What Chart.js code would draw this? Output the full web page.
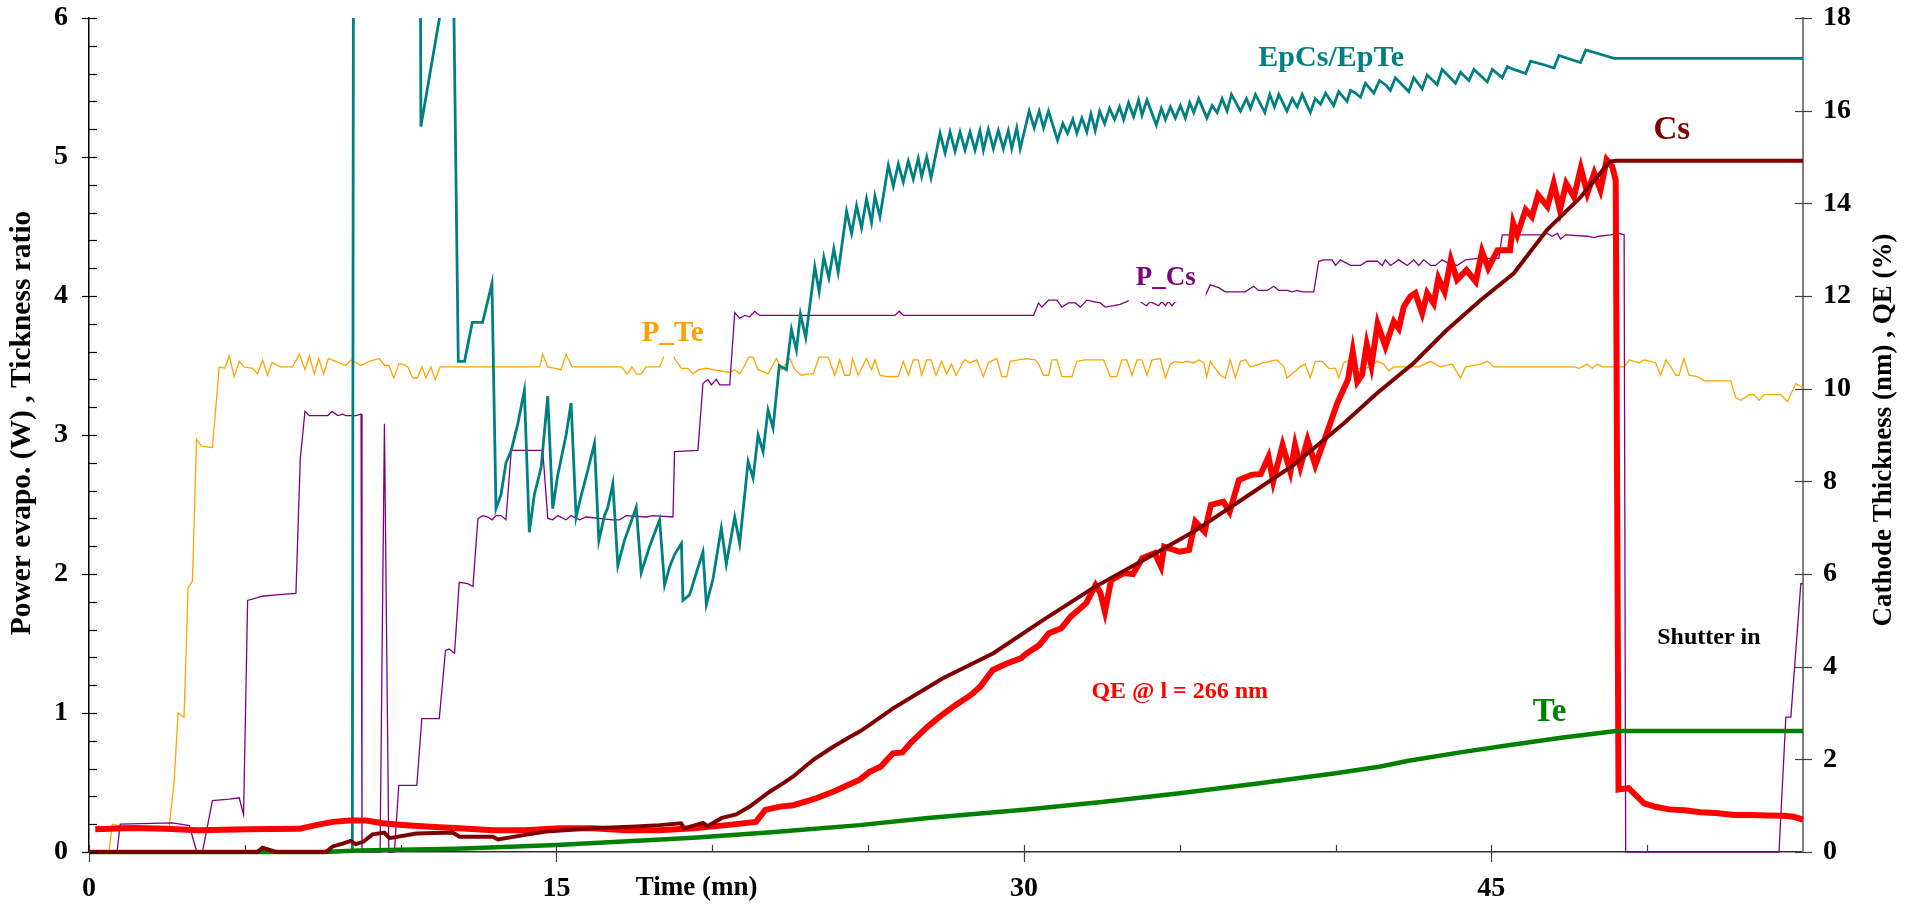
<!DOCTYPE html>
<html><head><meta charset="utf-8">
<script src="https://cdn.jsdelivr.net/npm/chart.js@4.4.1/dist/chart.umd.min.js"></script>
<style>html,body{margin:0;padding:0;background:#fff;}#wrap{width:1908px;height:906px;}</style>
</head><body><div id="wrap"><canvas id="c" width="1908" height="906"></canvas></div>
<script>
// ---- tick labels ----
const xLabeledTicks = [0, 15, 30, 45];
const xTitle = 'Time (mn)';
const yLeftTitle = 'Power evapo. (W) , Tickness ratio';
const yRightTitle = 'Cathode Thickness (nm) , QE (%)';

// ---- series: [time (min), value] ----
const pTe = [[0.2,0],[0.64,0],[0.75,0.2],[0.96,0.19],[2.57,0.18],[2.73,0.5],[2.86,1.0],[3.05,0.97],[3.18,1.9],[3.32,1.95],[3.45,2.97],[3.6,2.92],[3.96,2.91],[4.18,3.49],[4.36,3.48],[4.5,3.57],[4.66,3.42],[4.82,3.53],[4.98,3.49],[5.25,3.48],[5.41,3.44],[5.57,3.54],[5.73,3.43],[5.87,3.52],[6.16,3.49],[6.53,3.49],[6.75,3.58],[6.93,3.47],[7.07,3.57],[7.23,3.44],[7.37,3.55],[7.53,3.44],[7.68,3.55],[7.92,3.53],[8.24,3.5],[8.41,3.54],[8.73,3.5],[8.99,3.53],[9.32,3.55],[9.48,3.5],[9.62,3.5],[9.78,3.41],[9.94,3.51],[10.07,3.51],[10.23,3.49],[10.39,3.41],[10.53,3.41],[10.69,3.49],[10.81,3.41],[10.97,3.49],[11.11,3.4],[11.27,3.49],[14.46,3.49],[14.56,3.58],[14.72,3.49],[15.15,3.47],[15.31,3.58],[15.5,3.49],[17.08,3.49],[17.27,3.44],[17.42,3.49],[17.56,3.44],[17.72,3.44],[17.88,3.49],[18.31,3.49],[18.42,3.55],[18.6,3.75],[18.79,3.55],[19.01,3.48],[19.22,3.48],[19.38,3.44],[19.57,3.47],[19.81,3.48],[20.02,3.47],[20.56,3.45],[20.72,3.47],[20.88,3.44],[21.04,3.5],[21.17,3.56],[21.31,3.56],[21.47,3.47],[21.79,3.44],[22.06,3.55],[22.22,3.47],[22.49,3.55],[22.65,3.47],[22.86,3.43],[23.08,3.44],[23.24,3.44],[23.43,3.56],[23.72,3.56],[23.93,3.43],[24.09,3.54],[24.25,3.43],[24.41,3.43],[24.5,3.55],[24.68,3.43],[24.95,3.55],[25.11,3.47],[25.22,3.54],[25.38,3.43],[25.6,3.42],[25.97,3.42],[26.13,3.53],[26.29,3.43],[26.45,3.54],[26.61,3.54],[26.72,3.43],[26.88,3.54],[27.02,3.54],[27.18,3.43],[27.36,3.53],[27.52,3.44],[27.68,3.51],[27.82,3.43],[28.09,3.54],[28.27,3.52],[28.49,3.54],[28.7,3.42],[28.86,3.52],[29.13,3.55],[29.29,3.42],[29.45,3.42],[29.56,3.53],[29.82,3.54],[30.09,3.55],[30.36,3.54],[30.47,3.51],[30.63,3.43],[30.79,3.43],[30.9,3.54],[31.06,3.54],[31.22,3.42],[31.54,3.42],[31.7,3.53],[31.97,3.54],[32.56,3.54],[32.77,3.42],[32.98,3.42],[33.14,3.54],[33.3,3.54],[33.47,3.43],[33.63,3.54],[33.79,3.54],[33.95,3.43],[34.11,3.54],[34.38,3.55],[34.54,3.41],[34.7,3.51],[34.86,3.53],[35.07,3.52],[35.23,3.53],[35.45,3.52],[35.61,3.54],[35.77,3.52],[35.87,3.42],[35.98,3.53],[36.3,3.43],[36.46,3.41],[36.62,3.54],[36.79,3.41],[36.95,3.53],[37.11,3.54],[37.27,3.49],[37.7,3.52],[38.12,3.54],[38.34,3.49],[38.44,3.41],[38.87,3.49],[39.03,3.51],[39.19,3.41],[39.35,3.53],[39.57,3.53],[39.78,3.48],[40.0,3.48],[40.1,3.41],[40.26,3.52],[40.48,3.54],[40.69,3.48],[40.91,3.48],[41.12,3.49],[41.34,3.53],[41.55,3.51],[41.71,3.46],[41.87,3.49],[42.3,3.49],[42.67,3.49],[43.05,3.53],[43.37,3.49],[43.74,3.51],[44.01,3.41],[44.17,3.49],[44.65,3.51],[44.87,3.53],[45.08,3.49],[47.65,3.49],[47.81,3.48],[48.08,3.51],[48.24,3.48],[48.4,3.51],[48.56,3.49],[49.26,3.49],[49.42,3.54],[49.74,3.52],[49.9,3.54],[50.27,3.52],[50.43,3.43],[50.6,3.54],[50.76,3.49],[50.92,3.43],[51.02,3.43],[51.18,3.55],[51.34,3.43],[51.61,3.42],[51.83,3.39],[52.68,3.39],[52.84,3.27],[53.0,3.25],[53.27,3.29],[53.43,3.29],[53.59,3.25],[53.75,3.29],[54.29,3.29],[54.5,3.24],[54.77,3.37],[55.0,3.34]];

const pCs = [[0.9,0],[1.0,0.2],[2.68,0.21],[3.22,0.19],[3.46,0],[3.64,0],[3.96,0.37],[4.5,0.38],[4.82,0.39],[4.96,0.27],[5.09,1.81],[5.57,1.84],[6.0,1.85],[6.64,1.86],[6.78,2.83],[6.93,3.17],[7.07,3.14],[7.66,3.14],[7.8,3.17],[7.98,3.14],[8.14,3.15],[8.24,3.14],[8.57,3.14],[8.73,3.15],[8.76,0],[9.34,0],[9.48,3.08],[9.62,0],[9.8,0],[9.94,0.48],[10.52,0.48],[10.68,0.96],[11.24,0.96],[11.44,1.45],[11.56,1.46],[11.73,1.43],[11.88,1.94],[12.15,1.93],[12.32,1.91],[12.48,2.4],[12.64,2.42],[12.8,2.41],[12.94,2.39],[13.06,2.42],[13.22,2.42],[13.38,2.39],[13.55,2.89],[14.56,2.89],[14.72,2.4],[14.88,2.39],[15.04,2.42],[15.31,2.39],[15.47,2.42],[15.74,2.39],[15.95,2.41],[16.81,2.39],[17.02,2.39],[17.24,2.42],[17.88,2.41],[18.1,2.42],[18.74,2.41],[18.79,2.88],[19.54,2.89],[19.7,3.37],[19.86,3.4],[19.97,3.36],[20.13,3.4],[20.24,3.36],[20.56,3.36],[20.72,3.88],[20.88,3.84],[21.04,3.86],[21.2,3.85],[21.36,3.89],[21.52,3.86],[25.86,3.86],[26.0,3.89],[26.13,3.86],[30.31,3.86],[30.47,3.95],[30.57,3.92],[30.79,3.97],[31.06,3.97],[31.22,3.92],[31.43,3.95],[31.65,3.95],[31.81,3.92],[32.02,3.97],[32.23,3.96],[32.45,3.95],[32.61,3.92],[32.88,3.93],[33.09,3.94],[33.41,3.97],[33.73,3.96],[33.93,3.93],[34.05,3.96],[34.32,3.93],[34.43,3.96],[34.54,3.93],[34.64,3.96],[34.75,3.93],[34.86,3.96],[35.34,3.97],[35.77,3.98],[35.98,4.08],[36.25,4.06],[36.46,4.03],[37.1,4.03],[37.37,4.07],[37.53,4.04],[37.8,4.04],[38.02,4.07],[38.18,4.04],[38.45,4.04],[38.61,4.03],[38.77,4.04],[38.93,4.03],[39.3,4.03],[39.46,4.25],[39.62,4.26],[39.89,4.26],[40.0,4.22],[40.16,4.26],[40.48,4.22],[40.8,4.22],[41.01,4.25],[41.34,4.25],[41.5,4.22],[41.6,4.26],[41.76,4.22],[42.03,4.26],[42.3,4.22],[42.51,4.26],[42.67,4.22],[42.83,4.26],[43.05,4.22],[43.21,4.22],[43.42,4.26],[43.58,4.24],[43.9,4.22],[44.17,4.26],[44.55,4.27],[45.24,4.27],[45.35,4.44],[46.63,4.44],[46.79,4.45],[46.95,4.43],[47.12,4.45],[47.22,4.41],[47.38,4.44],[48.08,4.43],[48.29,4.42],[48.45,4.43],[48.83,4.44],[49.1,4.45],[49.26,4.44],[49.31,0],[54.23,0],[54.45,0.97],[54.61,0.97],[54.93,1.93],[55,1.93]];

const ratio = [[8.45,0],[8.5,9],[10.6,9],[10.65,5.22],[11.4,6.2],[11.7,6.2],[11.85,3.53],[12.05,3.53],[12.3,3.81],[12.63,3.81],[12.93,4.09],[13.06,2.47],[13.22,2.57],[13.38,2.8],[13.55,2.89],[13.76,3.08],[13.97,3.32],[14.13,2.3],[14.29,2.57],[14.51,2.77],[14.72,3.28],[14.88,2.47],[15.04,2.71],[15.31,3.0],[15.47,3.23],[15.63,2.41],[15.79,2.56],[16.01,2.75],[16.22,2.94],[16.36,2.24],[16.54,2.42],[16.65,2.48],[16.81,2.65],[16.97,2.06],[17.18,2.24],[17.56,2.48],[17.72,2.01],[17.99,2.2],[18.31,2.39],[18.47,1.92],[18.63,2.05],[18.79,2.14],[19.01,2.22],[19.06,1.81],[19.27,1.85],[19.38,1.93],[19.7,2.16],[19.81,1.78],[20.02,1.96],[20.29,2.33],[20.45,2.07],[20.72,2.41],[20.88,2.22],[21.15,2.81],[21.31,2.69],[21.47,3.0],[21.63,2.88],[21.79,3.18],[21.95,3.05],[22.15,3.5],[22.38,3.47],[22.54,3.76],[22.7,3.61],[22.83,3.87],[23.0,3.7],[23.29,4.21],[23.43,4.03],[23.58,4.28],[23.74,4.13],[23.9,4.34],[24.04,4.17],[24.31,4.61],[24.47,4.45],[24.63,4.65],[24.79,4.49],[24.95,4.7],[25.11,4.53],[25.22,4.72],[25.38,4.57],[25.65,4.94],[25.81,4.79],[25.97,4.95],[26.13,4.82],[26.29,4.97],[26.45,4.84],[26.61,4.99],[26.72,4.86],[26.88,5.0],[27.02,4.85],[27.31,5.17],[27.47,5.03],[27.63,5.18],[27.79,5.04],[27.95,5.18],[28.11,5.05],[28.27,5.18],[28.43,5.05],[28.59,5.19],[28.7,5.05],[28.86,5.2],[29.02,5.06],[29.18,5.19],[29.34,5.06],[29.5,5.19],[29.61,5.06],[29.77,5.21],[29.88,5.06],[30.17,5.33],[30.33,5.21],[30.49,5.33],[30.63,5.21],[30.79,5.33],[31.08,5.12],[31.25,5.24],[31.4,5.17],[31.57,5.27],[31.7,5.17],[31.86,5.28],[32.02,5.18],[32.15,5.31],[32.29,5.19],[32.43,5.33],[32.59,5.24],[32.75,5.35],[32.91,5.27],[33.07,5.36],[33.2,5.27],[33.36,5.39],[33.52,5.29],[33.68,5.41],[33.79,5.3],[33.95,5.41],[34.25,5.23],[34.41,5.35],[34.54,5.27],[34.7,5.36],[34.86,5.28],[35.02,5.37],[35.18,5.28],[35.32,5.39],[35.45,5.32],[35.61,5.42],[35.87,5.28],[36.04,5.37],[36.2,5.32],[36.36,5.42],[36.52,5.33],[36.66,5.45],[36.95,5.33],[37.14,5.42],[37.27,5.35],[37.43,5.45],[37.73,5.32],[37.89,5.45],[38.04,5.36],[38.18,5.45],[38.44,5.33],[38.61,5.42],[38.77,5.36],[38.93,5.45],[39.19,5.32],[39.35,5.42],[39.52,5.38],[39.68,5.46],[39.94,5.37],[40.1,5.47],[40.37,5.4],[40.48,5.48],[40.64,5.46],[40.8,5.43],[40.96,5.53],[41.23,5.46],[41.41,5.55],[41.6,5.52],[41.76,5.48],[41.92,5.57],[42.35,5.47],[42.51,5.57],[42.78,5.49],[42.94,5.59],[43.26,5.52],[43.42,5.63],[43.85,5.53],[44.01,5.61],[44.28,5.55],[44.44,5.63],[44.87,5.54],[45.03,5.63],[45.35,5.57],[45.51,5.65],[45.72,5.63],[46.1,5.6],[46.26,5.69],[46.74,5.66],[47.01,5.64],[47.17,5.73],[47.86,5.68],[48.03,5.77],[48.94,5.71],[55,5.71]];

const csThick = [[0,0],[5.4,0],[5.57,0.09],[6.0,0],[7.6,0],[7.82,0.12],[8.14,0.18],[8.4,0.24],[8.56,0.17],[8.8,0.22],[9.1,0.38],[9.48,0.42],[9.64,0.3],[10.5,0.4],[11.67,0.42],[11.89,0.33],[12.96,0.33],[13.12,0.27],[14.0,0.37],[14.67,0.44],[16.17,0.51],[17.56,0.55],[18.3,0.58],[19.0,0.62],[19.1,0.51],[19.7,0.63],[19.86,0.56],[20.29,0.73],[20.77,0.81],[21.2,0.98],[21.84,1.3],[22.27,1.48],[22.6,1.63],[23.24,1.99],[23.88,2.27],[24.41,2.48],[24.73,2.6],[25.06,2.75],[25.8,3.1],[27.4,3.75],[29.02,4.29],[30.6,5.0],[32.2,5.69],[33.84,6.3],[35.44,6.91],[37.05,7.63],[38.65,8.35],[40.26,9.25],[41.33,9.9],[42.5,10.55],[43.58,11.27],[44.65,11.91],[45.72,12.49],[46.79,13.43],[47.87,14.14],[48.8,14.9],[49.0,14.92],[55,14.92]];

const teThick = [[0,0],[7.5,0],[8.67,0.03],[11.78,0.07],[15,0.15],[19.4,0.31],[22,0.43],[24.73,0.58],[27,0.74],[30,0.91],[32.5,1.08],[35,1.27],[37.5,1.48],[40,1.7],[41.4,1.84],[42.34,1.97],[44,2.15],[45.6,2.31],[47.3,2.47],[49.0,2.61],[55,2.61]];

const qe = [[0.2,0.49],[1.4,0.52],[2.46,0.5],[3.5,0.47],[5.14,0.49],[6.75,0.5],[7.28,0.58],[7.82,0.65],[8.35,0.68],[8.9,0.68],[9.42,0.62],[9.96,0.59],[10.8,0.55],[11.88,0.51],[12.96,0.47],[14.0,0.47],[15.1,0.51],[16.17,0.51],[17.24,0.47],[18.3,0.47],[19.4,0.51],[20.45,0.58],[21.4,0.65],[21.7,0.91],[22.17,0.98],[22.6,1.01],[23.34,1.16],[23.88,1.3],[24.73,1.56],[25.05,1.73],[25.4,1.84],[25.8,2.13],[26.1,2.15],[26.4,2.38],[26.9,2.7],[27.3,2.92],[27.8,3.17],[28.3,3.39],[28.6,3.57],[29.0,3.93],[29.45,4.07],[29.9,4.18],[30.1,4.29],[30.5,4.47],[30.8,4.72],[31.2,4.83],[31.5,5.08],[32.0,5.37],[32.3,5.76],[32.45,5.6],[32.6,5.19],[32.8,5.87],[33.2,6.02],[33.5,6.0],[33.8,6.34],[34.2,6.45],[34.4,6.16],[34.5,6.59],[35.0,6.48],[35.3,6.52],[35.5,7.13],[35.8,6.91],[36.0,7.49],[36.4,7.56],[36.6,7.34],[36.9,8.03],[37.3,8.14],[37.6,8.16],[37.85,8.53],[38.0,8.0],[38.3,8.78],[38.55,8.21],[38.7,8.78],[38.87,8.32],[39.1,8.89],[39.35,8.35],[39.7,9.0],[40.05,9.68],[40.4,10.2],[40.55,10.8],[40.7,10.15],[40.85,10.3],[41.0,10.95],[41.15,10.5],[41.35,11.4],[41.6,10.91],[41.87,11.45],[42.03,11.3],[42.19,11.77],[42.4,11.99],[42.56,12.06],[42.78,11.63],[42.94,12.06],[43.15,11.84],[43.3,12.38],[43.5,12.09],[43.7,12.78],[43.9,12.35],[44.2,12.56],[44.5,12.31],[44.7,12.96],[44.9,12.6],[45.2,12.99],[45.6,12.99],[45.7,13.57],[45.83,13.32],[46.1,13.86],[46.3,13.71],[46.5,14.18],[46.8,13.93],[47.0,14.43],[47.2,13.86],[47.4,14.43],[47.65,14.14],[47.87,14.76],[48.08,14.22],[48.3,14.65],[48.5,14.29],[48.7,14.94],[48.88,14.79],[48.99,14.5],[49.08,1.35],[49.4,1.38],[49.6,1.25],[49.9,1.05],[50.3,0.97],[50.7,0.92],[51.2,0.9],[51.7,0.86],[52.2,0.84],[52.8,0.8],[53.3,0.8],[53.9,0.79],[54.4,0.78],[54.7,0.76],[55.0,0.7]];

// ---- in-plot labels (data coordinates) ----
const annotations = [
  {text:'EpCs/EpTe', t:39.86, v:5.71, axis:'y', color:'#008080', size:30},
  {text:'Cs', t:50.79, v:15.58, axis:'y2', color:'#800000', size:33},
  {text:'P_Cs', t:34.55, v:4.13, axis:'y', color:'#800080', size:27, box:[37,16,40,24]},
  {text:'P_Te', t:18.73, v:3.73, axis:'y', color:'#ffa000', size:29, box:[32,15,33,23]},
  {text:'QE @ l = 266 nm', t:35.0, v:3.45, axis:'y2', color:'#ff0000', size:24},
  {text:'Te', t:46.87, v:3.02, axis:'y2', color:'#008000', size:33},
  {text:'Shutter in', t:51.98, v:4.62, axis:'y2', color:'#000000', size:24}
];

const FONT = '"Liberation Serif", "Times New Roman", serif';
const pts = arr => arr.map(p => ({x: p[0], y: p[1]}));

const tickMarks = {
  id: 'tickMarks',
  afterDraw(chart) {
    const {ctx, chartArea: a, scales: {x, y, y2}} = chart;
    ctx.save();
    ctx.lineWidth = 1.2;
    ctx.strokeStyle = '#000';
    for (let i = 0; i <= 30; i++) {
      const py = Math.round(y.getPixelForValue(i / 5)) + 0.5;
      ctx.beginPath();
      ctx.moveTo(i % 5 === 0 ? a.left - 7 : a.left, py);
      ctx.lineTo(a.left + 8, py);
      ctx.stroke();
    }
    ctx.strokeStyle = '#404040';
    for (let v = 0; v <= 18; v += 2) {
      const py = Math.round(y2.getPixelForValue(v)) + 0.5;
      ctx.beginPath(); ctx.moveTo(a.right - 8, py); ctx.lineTo(a.right + 9, py); ctx.stroke();
    }
    for (let t = 0; t <= 50; t += 5) {
      const px = Math.round(x.getPixelForValue(t)) + 0.5;
      const major = xLabeledTicks.includes(t);
      ctx.beginPath(); ctx.moveTo(px, a.bottom - 7); ctx.lineTo(px, major ? a.bottom + 10 : a.bottom); ctx.stroke();
    }
    // axis titles
    ctx.fillStyle = '#000';
    ctx.textAlign = 'center'; ctx.textBaseline = 'middle';
    ctx.font = 'bold 27px ' + FONT;
    ctx.fillText(xTitle, x.getPixelForValue(19.5), 888);
    ctx.save(); ctx.translate(1884, 430); ctx.rotate(-Math.PI / 2); ctx.fillText(yRightTitle, 0, 0); ctx.restore();
    ctx.font = 'bold 29.5px ' + FONT;
    ctx.save(); ctx.translate(22, 423); ctx.rotate(-Math.PI / 2); ctx.fillText(yLeftTitle, 0, 0); ctx.restore();
    ctx.restore();
  }
};

const labelPlugin = {
  id: 'labels',
  afterDatasetsDraw(chart) {
    const {ctx, scales} = chart;
    ctx.save();
    annotations.forEach(an => {
      const px = scales.x.getPixelForValue(an.t);
      const py = scales[an.axis].getPixelForValue(an.v);
      if (an.box) {
        ctx.fillStyle = '#fff';
        ctx.fillRect(px - an.box[0], py - an.box[1], an.box[0] + an.box[2], an.box[1] + an.box[3]);
      }
      ctx.fillStyle = an.color;
      ctx.font = 'bold ' + an.size + 'px ' + FONT;
      ctx.textAlign = 'center'; ctx.textBaseline = 'middle';
      ctx.fillText(an.text, px, py);
    });
    ctx.restore();
  }
};

const common = {pointRadius: 0, tension: 0, fill: false, clip: {left: 10, top: 0, right: 10, bottom: 10}};
const tickFont = {family: FONT, size: 28, weight: 'bold'};

new Chart(document.getElementById('c'), {
  type: 'line',
  data: {
    datasets: [
      Object.assign({label: 'Cs', data: pts(csThick), yAxisID: 'y2', borderColor: '#800000', borderWidth: 4, order: 1}, common),
      Object.assign({label: 'Te', data: pts(teThick), yAxisID: 'y2', borderColor: '#008000', borderWidth: 4.5, order: 2}, common),
      Object.assign({label: 'QE', data: pts(qe), yAxisID: 'y2', borderColor: '#ff0000', borderWidth: 6, order: 3}, common),
      Object.assign({label: 'EpCs/EpTe', data: pts(ratio), yAxisID: 'y', borderColor: '#008080', borderWidth: 2.8, order: 4}, common),
      Object.assign({label: 'P_Cs', data: pts(pCs), yAxisID: 'y', borderColor: '#800080', borderWidth: 1.3, order: 5}, common),
      Object.assign({label: 'P_Te', data: pts(pTe), yAxisID: 'y', borderColor: '#ffa500', borderWidth: 1.3, order: 6}, common)
    ]
  },
  options: {
    responsive: false,
    devicePixelRatio: 1,
    animation: false,
    layout: {padding: {top: 18, left: 0, right: 0, bottom: 0}},
    plugins: {legend: {display: false}, tooltip: {enabled: false}},
    scales: {
      x: {
        type: 'linear', min: 0, max: 55, position: 'bottom',
        grid: {display: false, drawTicks: false},
        border: {display: true, color: '#303030', width: 1.5},
        ticks: {stepSize: 5, autoSkip: false, maxRotation: 0, padding: 20, color: '#000', font: tickFont,
                callback: v => xLabeledTicks.includes(v) ? String(v) : ''},
        afterFit: s => { s.height = 54; s.paddingLeft = 0; s.paddingRight = 0; }
      },
      y: {
        type: 'linear', position: 'left', min: 0, max: 6,
        grid: {display: false, drawTicks: false},
        border: {display: true, color: '#000', width: 1.5},
        ticks: {stepSize: 1, padding: 21, color: '#000', font: tickFont},
        afterFit: s => { s.width = 89; s.paddingTop = 0; s.paddingBottom = 0; }
      },
      y2: {
        type: 'linear', position: 'right', min: 0, max: 18,
        grid: {display: false, drawTicks: false},
        border: {display: true, color: '#808080', width: 2},
        ticks: {stepSize: 2, padding: 20, color: '#000', font: tickFont},
        afterFit: s => { s.width = 105; s.paddingTop = 0; s.paddingBottom = 0; }
      }
    }
  },
  plugins: [labelPlugin, tickMarks]
});
</script>
</body></html>
